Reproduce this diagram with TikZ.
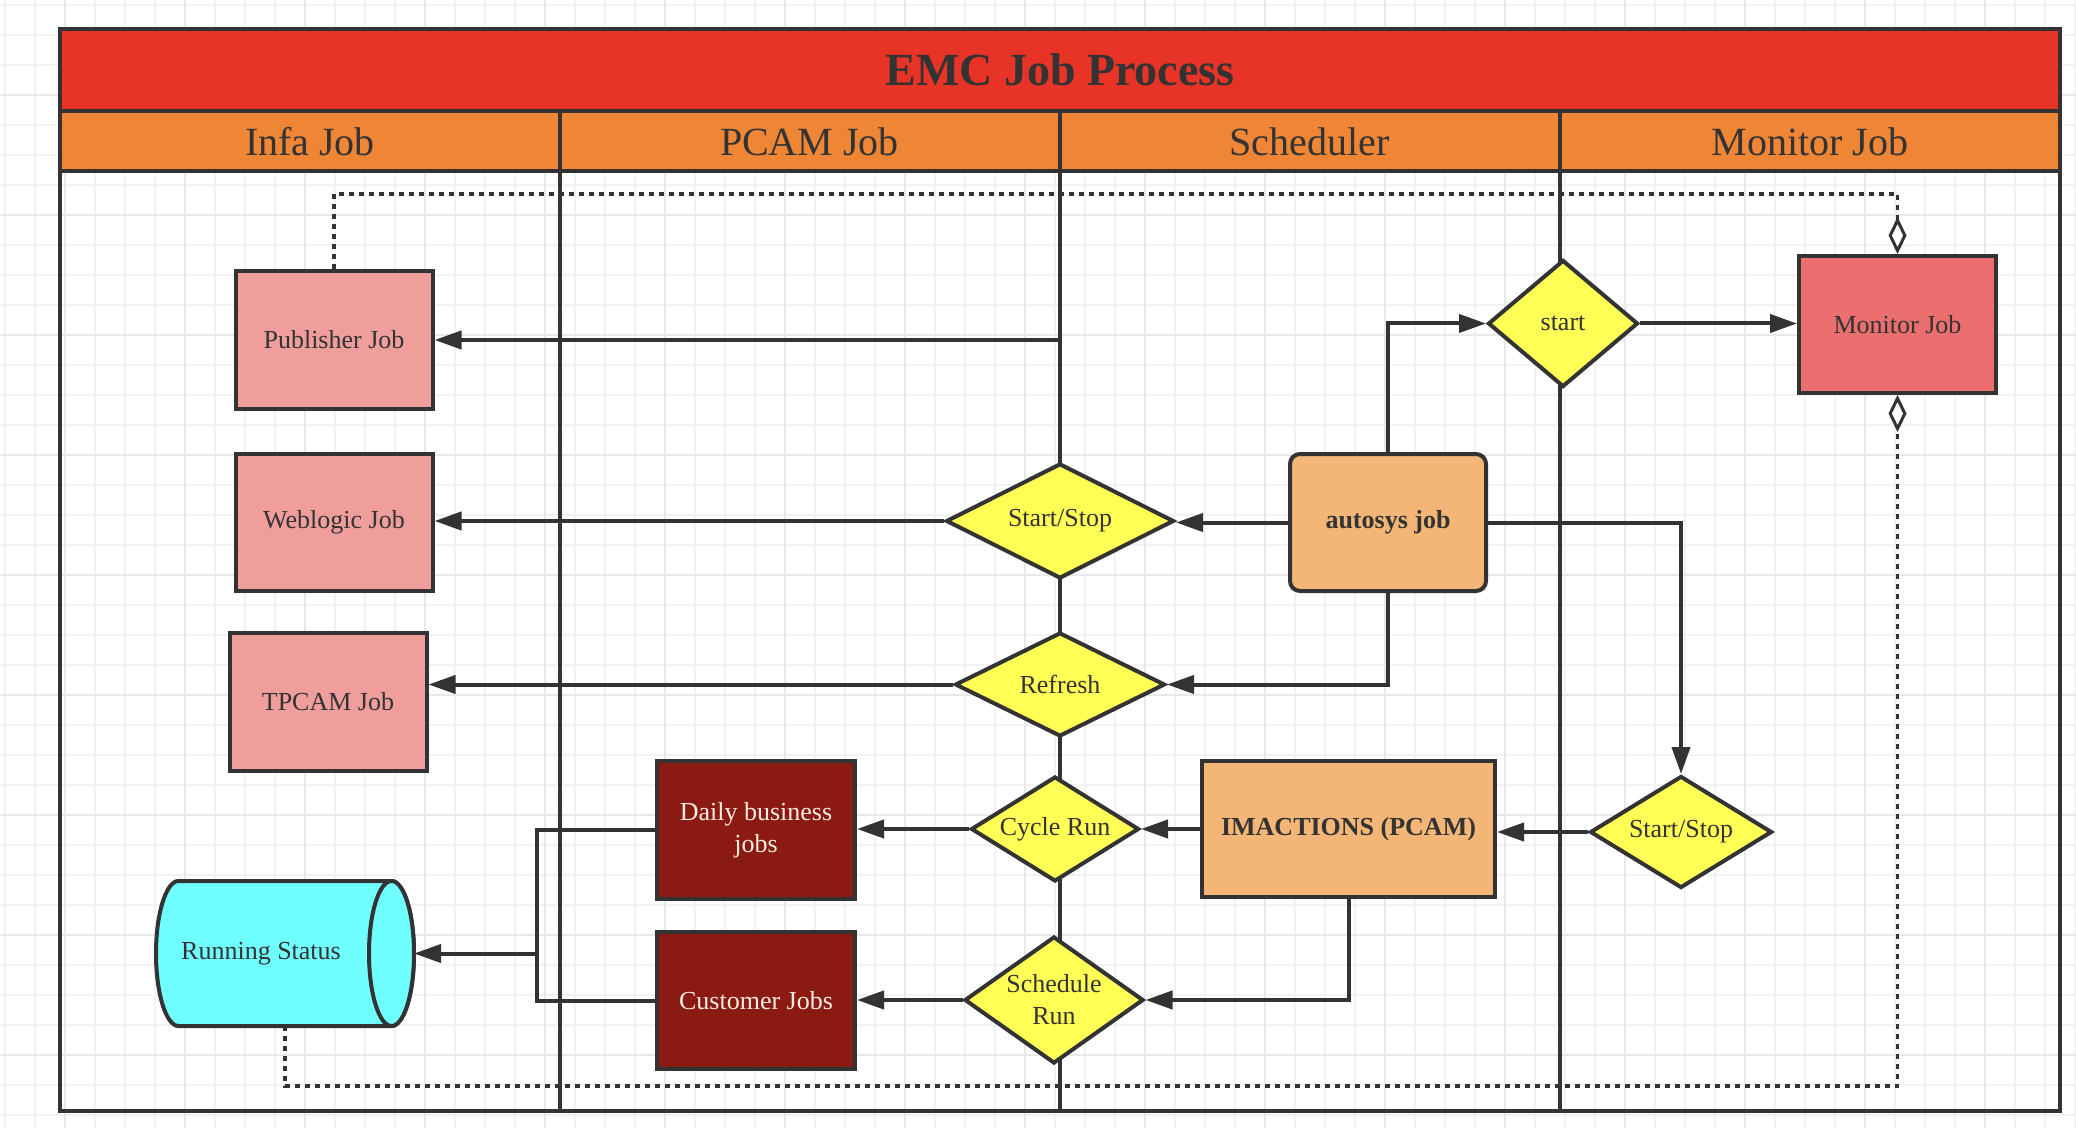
\documentclass[tikz,border=0pt]{standalone}
\usepackage{fontspec}
\setmainfont{Liberation Serif}
\usetikzlibrary{shapes.geometric,arrows.meta,calc}
\definecolor{ln}{HTML}{333333}
\definecolor{titlered}{HTML}{E83426}
\definecolor{headorange}{HTML}{EE8635}
\definecolor{pinkbox}{HTML}{F09E9C}
\definecolor{monred}{HTML}{EC6F6F}
\definecolor{darkred}{HTML}{8B1A12}
\definecolor{yel}{HTML}{FFFF55}
\definecolor{lightorange}{HTML}{F4B676}
\definecolor{cyanfill}{HTML}{70FFFF}
\definecolor{cream}{HTML}{F7ECE0}
\definecolor{gridminor}{HTML}{F2F2F2}
\definecolor{gridmajor}{HTML}{E8E8E8}
\begin{document}
\begin{tikzpicture}[x=0.5pt,y=-0.5pt,
  conn/.style={draw=ln, line width=2pt, -{Triangle[length=13.5pt,width=9pt]}},
  plainline/.style={draw=ln, line width=2pt},
  dotl/.style={draw=ln, line width=1.75pt, dash pattern=on 2.5pt off 2.5pt, -{Diamond[length=18.5pt,width=9pt,fill=white,line width=1.5pt]}},
  nodefont/.style={font=\fontsize{13}{16}\selectfont},
  box/.style={rectangle, draw=ln, line width=2pt, nodefont, text=ln, align=center, inner sep=0pt},
  dia/.style={diamond, draw=ln, fill=yel, line width=2pt, nodefont, text=ln, align=center, inner sep=0pt},
  headtext/.style={font=\fontsize{20}{24}\selectfont, text=ln},
  lane/.style={draw=ln, line width=2pt}
]
\useasboundingbox (0,0) rectangle (2076,1128);
\fill[white] (0,0) rectangle (2076,1128);
% grid
\foreach \i in {0,...,69} { \draw[gridminor, line width=1pt] ({5+30*\i},0) -- ({5+30*\i},1128); }
\foreach \i in {0,...,37} { \draw[gridminor, line width=1pt] (0,{5+30*\i}) -- (2076,{5+30*\i}); }
\foreach \i in {0,...,16} { \draw[gridmajor, line width=1pt] ({65+120*\i},0) -- ({65+120*\i},1128); }
\foreach \i in {0,...,8} { \draw[gridmajor, line width=1pt] (0,{95+120*\i}) -- (2076,{95+120*\i}); }

% pool frame
\fill[titlered] (60,29) rectangle (2060,111);
\fill[headorange] (60,111) rectangle (2060,171);
\draw[lane] (60,29) rectangle (2060,1111);
\draw[lane] (60,111) -- (2060,111);
\draw[lane] (60,171) -- (2060,171);
\draw[lane] (560,111) -- (560,1111);
\draw[lane] (1059.5,111) -- (1059.5,1111);
\draw[lane] (1560,111) -- (1560,1111);

\node[font=\bfseries\fontsize{23}{27}\selectfont, text=ln] (title) at (1060,70) {EMC Job Process};
\node[headtext] (h1) at (310,142) {Infa Job};
\node[headtext] (h2) at (809.5,142) {PCAM Job};
\node[headtext] (h3) at (1309.5,142) {Scheduler};
\node[headtext] (h4) at (1810,142) {Monitor Job};

% nodes
\node[box, fill=pinkbox, minimum width=98.5pt, minimum height=68.5pt] (pub) at (334,340) {Publisher Job};
\node[box, fill=pinkbox, minimum width=98.5pt, minimum height=68.5pt] (web) at (334,522) {Weblogic Job};
\node[box, fill=pinkbox, minimum width=98.5pt, minimum height=69pt] (tpcam) at (328,702) {TPCAM Job};
\node[box, fill=darkred, text=cream, minimum width=99pt, minimum height=69pt] (daily) at (756,830) {Daily business\\jobs};
\node[box, fill=darkred, text=cream, minimum width=99pt, minimum height=68.5pt] (cust) at (756,1000.5) {Customer Jobs};
\node[box, fill=lightorange, rounded corners=5pt, minimum width=98pt, minimum height=68.5pt, font=\bfseries\fontsize{13}{16}\selectfont] (autosys) at (1388,522.5) {autosys job};
\node[box, fill=lightorange, minimum width=146.5pt, minimum height=68pt, font=\bfseries\fontsize{13}{16}\selectfont] (imact) at (1348.5,829) {IMACTIONS (PCAM)};
\node[box, fill=monred, minimum width=98.5pt, minimum height=68.5pt] (monitor) at (1897.5,324.5) {Monitor Job};

\node[dia, shape aspect=1.98, minimum width=114pt, minimum height=57.5pt] (ss1) at (1060,521) {Start/Stop};
\node[dia, shape aspect=2.0, minimum width=105pt, minimum height=52pt] (refresh) at (1060,684.5) {Refresh};
\node[dia, shape aspect=1.6, minimum width=84pt, minimum height=52.5pt] (cycle) at (1055,829) {Cycle Run};
\node[dia, shape aspect=1.41, minimum width=89.5pt, minimum height=63.5pt] (sched) at (1054,1000) {Schedule\\Run};
\node[dia, shape aspect=1.18, minimum width=75pt, minimum height=63.5pt] (start) at (1563,323.5) {start};
\node[dia, shape aspect=1.62, minimum width=91pt, minimum height=56pt] (ss2) at (1681,832) {Start/Stop};

% Running Status cylinder
\node[rectangle, draw=none, outer sep=0pt, inner sep=0pt, minimum width=129pt, minimum height=72.5pt] (RS) at (285,953.5) {};
\path[draw=ln, fill=cyanfill, line width=2pt]
  ($(RS.north west)+(22.5,0)$) -- ($(RS.north east)+(-22.5,0)$)
  arc[start angle=90, end angle=-90, x radius=11.25pt, y radius=36.25pt]
  -- ($(RS.south west)+(22.5,0)$)
  arc[start angle=-90, end angle=-270, x radius=11.25pt, y radius=36.25pt] -- cycle;
\draw[ln, fill=cyanfill, line width=2pt] ($(RS.east)+(-22.5,0)$) ellipse [x radius=11.25pt, y radius=36.25pt];
\node[nodefont, text=ln] (rslabel) at (261,953.5) {Running Status};

% connectors
\draw[conn] (ss1.north) |- (pub.east);
\draw[conn] (ss1.west) -- (ss1.west -| web.east);
\draw[conn] (autosys.west) -- (autosys.west -| ss1.east);
\draw[conn] (autosys.north) |- (start.west);
\draw[conn] (start.east) -- (start.east -| monitor.west);
\draw[conn] (autosys.east) -| (ss2.north);
\draw[conn] (autosys.south) |- (refresh.east);
\draw[conn] (refresh.west) -- (refresh.west -| tpcam.east);
\draw[conn] (imact.west) -- (imact.west -| cycle.east);
\draw[conn] (cycle.west) -- (cycle.west -| daily.east);
\draw[conn] (ss2.west) -- (ss2.west -| imact.east);
\draw[conn] (imact.south) |- (sched.east);
\draw[conn] (sched.west) -- (sched.west -| cust.east);
\coordinate (jn) at (537,953.5);
\draw[plainline] (daily.west) -| (jn);
\draw[plainline] (cust.west) -| (jn);
\draw[conn] (jn) -- (RS.east);

% dotted links
\coordinate (toprow) at (0,194);
\coordinate (botrow) at (0,1086);
\draw[dotl] (pub.north) -- (pub.north |- toprow) -| (monitor.north);
\draw[dotl] (RS.south) -- (RS.south |- botrow) -| (monitor.south);
\end{tikzpicture}
\end{document}
